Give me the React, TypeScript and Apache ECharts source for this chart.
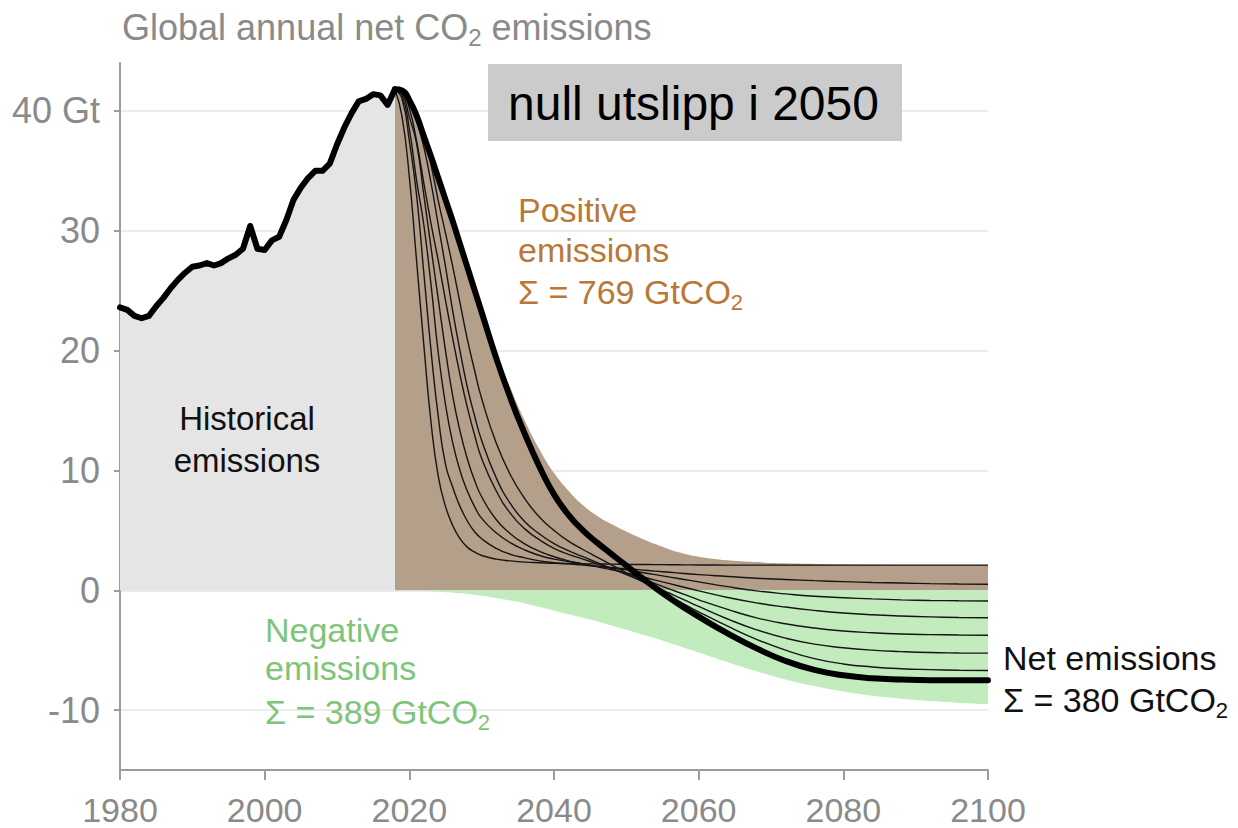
import React, { useEffect, useRef } from "react";
import * as echarts from "echarts";

// ---------- DATA ----------
const histYears = [1980, 1981, 1982, 1983, 1984, 1985, 1986, 1987, 1988, 1989, 1990, 1991, 1992, 1993, 1994, 1995, 1996, 1997, 1998, 1999, 2000, 2001, 2002, 2003, 2004, 2005, 2006, 2007, 2008, 2009, 2010, 2011, 2012, 2013, 2014, 2015, 2016, 2017, 2018];
const histValues = [23.6, 23.4, 22.9, 22.7, 22.9, 23.7, 24.4, 25.2, 25.9, 26.5, 27.0, 27.1, 27.3, 27.1, 27.3, 27.7, 28.0, 28.5, 30.4, 28.5, 28.4, 29.2, 29.5, 30.9, 32.6, 33.6, 34.4, 35.0, 35.0, 35.6, 37.2, 38.6, 39.8, 40.8, 41.0, 41.4, 41.3, 40.5, 41.8];

const futureYears = [
  2018, 2019, 2020, 2021, 2022, 2023, 2024, 2025, 2026, 2027, 2028, 2029, 2030,
  2032, 2034, 2036, 2038, 2040, 2042, 2044, 2046, 2048, 2050, 2052, 2054, 2056, 2058, 2060,
  2064, 2068, 2072, 2076, 2080, 2084, 2088, 2092, 2096, 2100,
];

const netValues = [
  41.8, 41.7, 40.9, 39.6, 37.9, 36.2, 34.4, 32.6, 30.8, 28.9, 27.0, 25.1, 23.2,
  19.4, 16.0, 13.0, 10.3, 8.0, 6.3, 5.0, 3.95, 3.0, 2.05, 1.1, 0.2, -0.65, -1.45, -2.2,
  -3.6, -4.85, -5.9, -6.65, -7.1, -7.35, -7.45, -7.5, -7.5, -7.5,
];
const positiveValues = [
  41.8, 41.7, 40.9, 39.6, 37.95, 36.3, 34.55, 32.8, 31.05, 29.2, 27.35, 25.5, 23.65,
  19.95, 16.85, 14.1, 11.75, 9.8, 8.3, 7.1, 6.2, 5.5, 4.9, 4.35, 3.85, 3.4, 3.05, 2.8,
  2.5, 2.35, 2.25, 2.2, 2.15, 2.12, 2.1, 2.1, 2.1, 2.1,
];
const negativeValues = [
  0, 0, 0, -0.02, -0.05, -0.08, -0.12, -0.16, -0.2, -0.26, -0.32, -0.39, -0.46,
  -0.64, -0.86, -1.1, -1.4, -1.7, -2.0, -2.3, -2.6, -2.95, -3.3, -3.65, -4.0, -4.4, -4.8, -5.2,
  -6.0, -6.75, -7.45, -8.0, -8.45, -8.8, -9.05, -9.25, -9.4, -9.5,
];

const pathway1 = [
  41.8, 39.5, 34.5, 27.5, 20.5, 14.0, 9.5, 7.0, 5.4, 4.3, 3.6, 3.2, 2.9,
  2.6, 2.45, 2.35, 2.3, 2.25, 2.23, 2.21, 2.2, 2.18, 2.16, 2.15, 2.14, 2.13, 2.12, 2.11,
  2.1, 2.1, 2.1, 2.1, 2.1, 2.1, 2.1, 2.1, 2.1, 2.1,
];
const pathway2 = [
  41.8, 41.0, 37.5, 33.0, 26.5, 20.0, 14.5, 10.5, 8.6, 7.0, 5.8, 4.9, 4.3,
  3.5, 3.0, 2.7, 2.45, 2.3, 2.2, 2.1, 2.0, 1.9, 1.8, 1.7, 1.6, 1.5, 1.4, 1.3,
  1.15, 1.0, 0.9, 0.8, 0.72, 0.65, 0.6, 0.55, 0.52, 0.5,
];
const pathway3 = [
  41.8, 41.3, 38.5, 34.2, 30.5, 25.5, 19.8, 15.5, 12.3, 10.0, 8.3, 7.0, 6.0,
  4.8, 3.95, 3.35, 2.9, 2.6, 2.4, 2.2, 2.0, 1.85, 1.7, 1.5, 1.3, 1.1, 0.9, 0.7,
  0.3, -0.05, -0.3, -0.5, -0.62, -0.72, -0.8, -0.85, -0.88, -0.9,
];
const pathway4 = [
  41.8, 41.5, 39.5, 37.3, 33.0, 28.6, 24.3, 20.0, 16.2, 13.3, 11.0, 9.2, 7.8,
  5.9, 4.7, 3.85, 3.25, 2.8, 2.45, 2.2, 1.95, 1.7, 1.45, 1.15, 0.85, 0.55, 0.25, -0.05,
  -0.6, -1.05, -1.4, -1.68, -1.9, -2.05, -2.15, -2.22, -2.27, -2.3,
];
const pathway5 = [
  41.8, 41.6, 40.2, 37.5, 34.0, 30.6, 27.5, 24.2, 21.0, 18.0, 15.3, 13.0, 11.0,
  8.3, 6.4, 5.1, 4.2, 3.5, 3.0, 2.6, 2.2, 1.8, 1.4, 1.0, 0.55, 0.1, -0.35, -0.8,
  -1.6, -2.3, -2.8, -3.15, -3.4, -3.55, -3.65, -3.7, -3.73, -3.75,
];
const pathway6 = [
  41.8, 41.7, 40.8, 39.2, 37.0, 34.0, 30.5, 27.0, 23.3, 20.0, 17.0, 14.6, 12.5,
  9.4, 7.2, 5.7, 4.7, 3.9, 3.3, 2.8, 2.3, 1.8, 1.3, 0.8, 0.3, -0.25, -0.8, -1.35,
  -2.4, -3.3, -4.0, -4.5, -4.8, -5.0, -5.12, -5.2, -5.23, -5.25,
];
const pathway7 = [
  41.8, 41.75, 41.0, 40.0, 38.0, 35.5, 32.5, 29.8, 27.0, 24.0, 21.0, 18.4, 16.0,
  12.3, 9.6, 7.6, 6.1, 5.0, 4.1, 3.4, 2.75, 2.1, 1.45, 0.8, 0.15, -0.5, -1.15, -1.8,
  -3.0, -4.1, -5.0, -5.7, -6.15, -6.4, -6.55, -6.62, -6.67, -6.7,
];
const pathways = [pathway1, pathway2, pathway3, pathway4, pathway5, pathway6, pathway7];

const yTicks = [-10, 0, 10, 20, 30, 40];
const xTickInterval = 20;

// ---------- STYLE ----------
const FONT = "'Liberation Sans', Arial, Helvetica, sans-serif";
const GREY_TEXT = "#8a8a8a";
const AXIS_GREY = "#9c9c9c";
const BROWN_TEXT = "#b97837";
const GREEN_TEXT = "#7fc47b";
const SMOOTH = 0.5;

const pairs = (xs: number[], ys: number[]) => xs.map((x, i) => [x, ys[i]]);

function subText(
  main1: string,
  sub: string,
  main2: string,
  x: number,
  y: number,
  color: string,
  size: number
) {
  return {
    type: "text",
    x,
    y,
    z: 100,
    style: {
      text: `{a|${main1}}{s|${sub}}{a|${main2}}`,
      align: "left",
      verticalAlign: "middle",
      textAlign: "left",
      textVerticalAlign: "middle",
      rich: {
        a: { fontSize: size, fontFamily: FONT, fill: color, lineHeight: size + 8 },
        s: {
          fontSize: Math.round(size * 0.66),
          fontFamily: FONT,
          fill: color,
          lineHeight: Math.round(size * 0.66),
          verticalAlign: "bottom",
        },
      },
    },
  };
}

function plainText(text: string, x: number, y: number, color: string, size: number, align = "left") {
  return {
    type: "text",
    x,
    y,
    z: 100,
    style: {
      text,
      fill: color,
      fontSize: size,
      fontFamily: FONT,
      align,
      verticalAlign: "middle",
      textAlign: align,
      textVerticalAlign: "middle",
    },
  };
}

export default function App() {
  const ref = useRef<HTMLDivElement>(null);

  useEffect(() => {
    document.body.style.margin = "0";
    if (!ref.current) return;
    const chart = echarts.init(ref.current, undefined, { renderer: "svg" });

    const thinSeries = pathways.map((p, i) => ({
      type: "line",
      name: `pathway${i + 1}`,
      data: pairs(futureYears, p),
      showSymbol: false,
      smooth: SMOOTH,
      lineStyle: { color: "#151515", width: 1.4 },
      z: 5,
      silent: true,
    }));

    const option: any = {
      animation: false,
      backgroundColor: "#ffffff",
      grid: { left: 120, right: 250, top: 63, bottom: 58, containLabel: false },
      xAxis: {
        type: "value",
        min: 1980,
        max: 2100,
        interval: xTickInterval,
        axisLine: { show: true, onZero: false, lineStyle: { color: AXIS_GREY, width: 2 } },
        axisTick: { show: true, length: 10, lineStyle: { color: AXIS_GREY, width: 2 } },
        axisLabel: {
          fontSize: 34,
          lineHeight: 30,
          color: GREY_TEXT,
          fontFamily: FONT,
          margin: 25,
          formatter: (v: number) => String(v),
        },
        splitLine: { show: false },
      },
      yAxis: {
        type: "value",
        min: -15,
        max: 44,
        axisLine: { show: true, onZero: false, lineStyle: { color: AXIS_GREY, width: 2 } },
        axisTick: {
          show: true,
          length: 6,
          customValues: yTicks,
          lineStyle: { color: AXIS_GREY, width: 2 },
        },
        axisLabel: {
          customValues: yTicks,
          fontSize: 36,
          color: GREY_TEXT,
          fontFamily: FONT,
          margin: 20,
          formatter: (v: number) => (v === 40 ? "40 Gt" : String(v)),
        },
        splitLine: { show: true, lineStyle: { color: "#ececec", width: 2 } },
      },
      series: [
        {
          type: "line",
          name: "historical",
          data: pairs(histYears, histValues),
          showSymbol: false,
          lineStyle: { color: "#000", width: 6, join: "round", cap: "round" },
          areaStyle: { color: "#e5e5e5", opacity: 1 },
          z: 8,
        },
        {
          type: "line",
          name: "positive",
          data: pairs(futureYears, positiveValues),
          showSymbol: false,
          smooth: SMOOTH,
          lineStyle: { width: 0, opacity: 0 },
          areaStyle: { color: "#b49f8a", opacity: 1 },
          z: 3,
        },
        {
          type: "line",
          name: "negative",
          data: pairs(futureYears, negativeValues),
          showSymbol: false,
          smooth: SMOOTH,
          lineStyle: { width: 0, opacity: 0 },
          areaStyle: { color: "#c2ecbe", opacity: 1 },
          z: 3,
        },
        ...thinSeries,
        {
          type: "line",
          name: "net",
          data: pairs(futureYears, netValues),
          showSymbol: false,
          smooth: SMOOTH,
          lineStyle: { color: "#000", width: 6, cap: "round" },
          z: 9,
        },
      ],
      graphic: [
        subText("Global annual net CO", "2", " emissions", 122, 27, GREY_TEXT, 36),
        { type: "rect", z: 100, shape: { x: 488, y: 64, width: 414, height: 77 }, style: { fill: "#cbcbcb" } },
        plainText("null utslipp i 2050", 508, 103, "#000", 48),
        plainText("Historical", 247, 418, "#111", 33, "center"),
        plainText("emissions", 247, 460, "#111", 33, "center"),
        plainText("Positive", 518, 210, BROWN_TEXT, 34),
        plainText("emissions", 518, 250, BROWN_TEXT, 34),
        subText("\u03A3 = 769 GtCO", "2", "", 518, 292, BROWN_TEXT, 34),
        plainText("Negative", 265, 630, GREEN_TEXT, 34),
        plainText("emissions", 265, 668, GREEN_TEXT, 34),
        subText("\u03A3 = 389 GtCO", "2", "", 265, 712, GREEN_TEXT, 34),
        plainText("Net emissions", 1003, 658, "#111", 34),
        subText("\u03A3 = 380 GtCO", "2", "", 1003, 700, "#111", 34),
      ],
    };

    chart.setOption(option);
    return () => chart.dispose();
  }, []);

  return <div ref={ref} style={{ width: 1238, height: 828 }} />;
}
